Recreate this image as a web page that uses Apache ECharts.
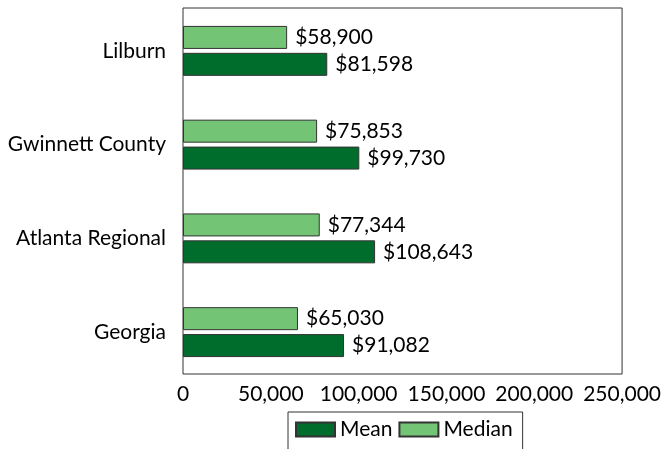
<!DOCTYPE html>
<html>
<head>
<meta charset="utf-8">
<script src="https://cdn.jsdelivr.net/npm/echarts@6/dist/echarts.min.js"></script>
<style>
html,body{margin:0;padding:0;background:#fff;}
#chart{width:664px;height:449px;}
</style>
</head>
<body>
<div id="chart"></div>
<script>
var categories = ['Georgia', 'Atlanta Regional', 'Gwinnett County', 'Lilburn'];
var meanValues = [91082, 108643, 99730, 81598];
var medianValues = [65030, 77344, 75853, 58900];
var xTicks = [0, 50000, 100000, 150000, 200000, 250000];

var FONT = 'Lato';
var FS = 21;
function fmt(v){ return v.toString().replace(/\B(?=(\d{3})+(?!\d))/g, ','); }
var labelCfg = { show: true, position: 'right', distance: 8, fontFamily: FONT, fontSize: FS, color: '#000',
  formatter: function(p){ return '$' + fmt(p.value); } };

var chart = echarts.init(document.getElementById('chart'));
chart.setOption({
  animation: false,
  textStyle: { fontFamily: FONT },
  grid: [
    { left: 183, right: 39, top: 8, bottom: 75, show: true, borderColor: '#333', borderWidth: 1, backgroundColor: 'transparent' },
    { left: 183, right: 39, top: 4, bottom: 70, show: false }
  ],
  legend: {
    top: 412, left: 288,
    data: ['Mean', 'Median'],
    itemWidth: 39, itemHeight: 14, itemGap: 6,
    borderColor: '#333', borderWidth: 1,
    padding: [7, 10, 14, 7],
    textStyle: { fontFamily: FONT, fontSize: FS, color: '#000' },
    icon: 'rect'
  },
  xAxis: [
    {
      gridIndex: 0, type: 'value', min: xTicks[0], max: xTicks[xTicks.length - 1], interval: 50000,
      axisLine: { show: false }, axisTick: { show: false }, splitLine: { show: false },
      axisLabel: { fontFamily: FONT, fontSize: FS, color: '#000', margin: 10, formatter: function(v){ return fmt(v); } }
    },
    {
      gridIndex: 1, type: 'value', min: xTicks[0], max: xTicks[xTicks.length - 1], interval: 50000, show: false,
      splitLine: { show: false }
    }
  ],
  yAxis: [
    { gridIndex: 0, type: 'value', min: 0, max: 1, show: false, splitLine: { show: false } },
    {
      gridIndex: 1, type: 'category', data: categories,
      axisLine: { show: false }, axisTick: { show: false },
      axisLabel: { fontFamily: FONT, fontSize: FS, color: '#000', margin: 17 }
    }
  ],
  series: [
    {
      name: 'Median', type: 'bar', xAxisIndex: 1, yAxisIndex: 1, data: medianValues, barWidth: 23, barGap: '17%',
      itemStyle: { color: '#74c476', borderColor: '#333', borderWidth: 1 },
      label: labelCfg
    },
    {
      name: 'Mean', type: 'bar', xAxisIndex: 1, yAxisIndex: 1, data: meanValues, barWidth: 23, barGap: '17%',
      itemStyle: { color: '#006d2c', borderColor: '#333', borderWidth: 1 },
      label: labelCfg
    }
  ]
});
</script>
</body>
</html>
